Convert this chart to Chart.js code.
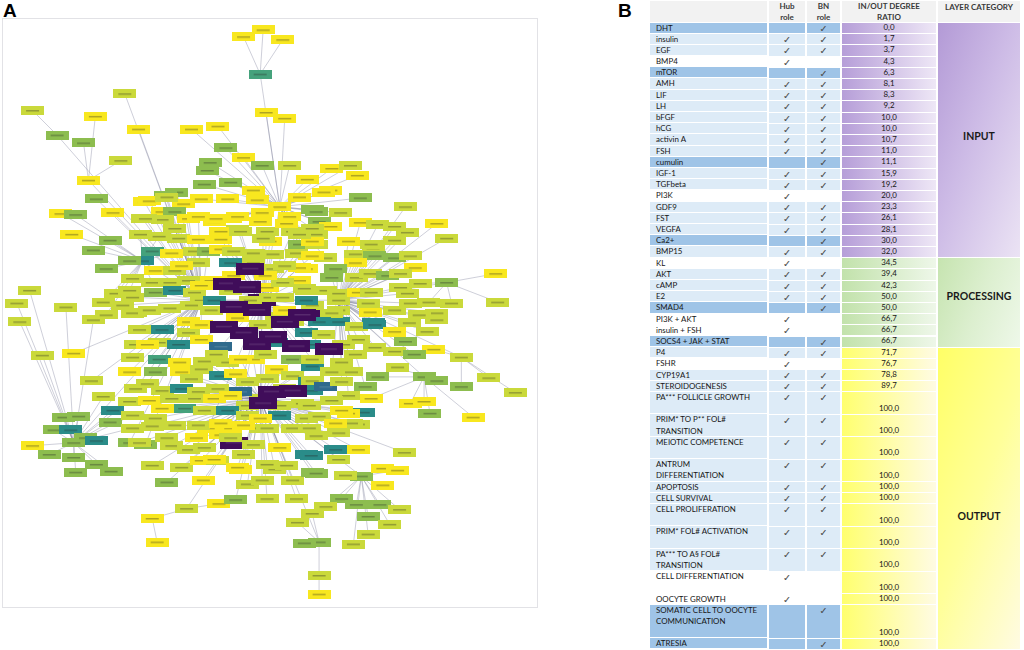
<!DOCTYPE html>
<html>
<head>
<meta charset="utf-8">
<script src="https://cdn.jsdelivr.net/npm/chart.js@4.4.0/dist/chart.umd.min.js"></script>
<style>
  body { margin: 0; width: 1024px; height: 650px; overflow: hidden; background: #fff; position: relative; font-family: Lato, "Open Sans", sans-serif; }
  .plabel { position: absolute; font: bold 19px "Liberation Sans", Arial, sans-serif; color: #000; }
  #netwrap { position: absolute; left: 2px; top: 18px; width: 534px; height: 588px; border: 1px solid #e2e2e6; }
  #net { filter: blur(0.35px); }
  .cell { position: absolute; box-sizing: border-box; font-size: 7.9px; line-height: 11.2px; color: #161616; overflow: hidden; white-space: pre; }
  .hd { background: #f2f2f2; font-weight: bold; font-size: 8px; line-height: 10.5px; color: #3a3a3a; text-align: center; padding-top: 0px; }
  .chk { text-align: center; font-family: "DejaVu Sans", sans-serif; font-size: 9.5px; color: #4a4a4a; }
  .val { text-align: center; display: flex; align-items: flex-end; justify-content: center; }
  .layer { font-weight: bold; font-size: 10.5px; text-align: center; color: #1a1a1a; }
</style>
</head>
<body>
<div class="plabel" style="left:3px;top:0px">A</div>
<div class="plabel" style="left:618px;top:0px">B</div>
<div id="netwrap"><canvas id="net" width="534" height="588"></canvas></div>
<div id="table"></div>
<script>
// ---- panel A : network nodes [x, y, tone, hub]  (layout units) ----
// tone : 0 yellow, 1 lime, 2 light green, 3 green, 4 teal green, 5 teal, 6 blue teal, 7 purple
var hubs = [
  [262,300,7,-1], [260,70,4,13], [53,132,3,10], [85,178,0,10], [450,282,3,11],
  [465,358,1,11], [427,378,3,11], [70,445,3,10], [185,512,1,12], [320,546,3,12],
  [200,300,1,0], [340,300,1,0], [260,400,1,0], [280,205,0,0], [363,479,3,12],
  [140,260,5,10], [320,580,1,9], [150,522,0,8]
];

var topNodes = [[243,32,0,1],[263,25,0,1],[283,35,0,1]];

var leftNodes = [
  [28,107,1,2],[80,140,3,3],[122,90,1,10],[92,113,0,3],[136,126,0,10],[118,158,1,3],
  [93,197,3,10],[57,212,0,15],[72,213,3,15],[68,233,0,15],[107,239,3,15],[90,249,3,15],
  [110,211,0,10],[140,217,1,10],[103,268,3,15],[25,290,1,7],[12,303,1,7],[62,307,1,7],
  [15,322,1,7],[38,356,1,7],[70,354,0,10],[88,382,1,10],[100,398,1,7],[110,412,5,7],
  [107,424,3,7],[60,419,3,7],[75,418,3,7],[50,432,3,7],[67,432,5,7],[82,440,3,7],
  [93,443,5,7],[28,448,0,7],[45,457,3,7],[70,460,3,7],[93,467,3,7],[72,475,3,7],
  [108,474,3,7],[127,445,3,10],[143,447,3,10],[100,302,1,15],[113,293,1,15],[127,290,1,15],
  [120,305,1,10],[90,320,1,7],[103,315,1,15],[133,312,1,10]
];

var lowerNodes = [
  [150,468,1,12],[165,485,3,12],[180,470,1,12],[200,463,0,12],[217,463,1,12],[202,483,0,12],
  [218,507,0,8],[235,503,3,12],[247,487,1,12],[240,472,0,12],[262,483,1,12],[267,502,1,12],
  [297,502,1,12],[275,472,1,12],[293,483,1,12],[313,475,3,12],[307,457,5,12],[298,526,1,9],
  [313,517,1,9],[305,547,3,9],[320,599,0,16],[155,546,0,17],[170,448,1,12],[187,452,1,12],
  [207,430,0,0],[230,430,0,0],[233,445,7,0],[260,430,1,0],[243,457,1,12],
  [343,502,3,14],[358,508,3,14],[382,508,3,14],[402,513,1,14],[327,510,1,14],[370,520,3,14],
  [392,528,1,14],[370,538,1,14],[355,548,1,14],[407,455,1,12],[337,452,5,12],[360,452,0,12],
  [340,462,1,12],[312,458,5,12],[385,471,0,14],[400,473,0,14],[385,488,0,14],[347,478,1,14],
  [317,476,3,12]
];

var rightNodes = [
  [412,323,1,11],[440,320,1,11],[397,333,0,11],[430,332,1,11],[408,342,3,11],[437,350,0,5],
  [377,348,1,11],[397,352,1,11],[417,355,3,11],[400,368,1,6],[380,378,3,6],[440,382,3,6],
  [465,388,3,5],[493,379,1,5],[520,394,1,5],[373,400,0,6],[413,405,0,6],[427,403,0,6],
  [433,415,3,6],[477,419,0,6],[365,414,5,12],[350,415,0,12],[360,426,1,12],[340,435,1,12],
  [333,166,0,13],[352,163,1,13],[359,173,0,13],[332,188,0,13],[362,196,3,13],[313,208,3,13],
  [342,211,1,13],[320,220,3,13],[332,225,0,13],[362,221,0,11],[380,223,1,11],[397,225,1,11],
  [408,205,1,11],[410,231,1,11],[440,222,0,11],[450,237,1,11],[397,239,1,11],[375,247,1,11],
  [397,257,3,11],[413,255,1,11],[418,267,0,11],[500,273,0,4],[333,277,3,11],[358,277,1,11],
  [372,273,1,11],[390,275,3,11],[403,273,1,11],[403,287,1,11],[423,283,1,4],[410,293,1,11],
  [432,302,1,4],[455,303,1,4],[502,302,1,4],[413,303,1,11],[440,313,1,11],[422,315,1,11],
  [372,312,0,11],[375,323,5,11],[340,322,5,11],[307,315,7,0],[300,243,3,13],[317,243,1,13],
  [373,243,1,11],[310,255,0,13],[327,257,1,13],[357,253,1,11],[377,255,3,11],[357,262,0,11],
  [337,268,3,11],[307,268,0,13],[300,280,0,0],[307,290,1,0],[327,290,1,11],[340,293,1,11],
  [360,292,0,11],[373,292,1,11],[340,310,1,11],[313,305,1,0],[370,303,1,11],[333,313,1,11],
  [397,310,1,11],[320,322,5,0],[358,327,1,11],[377,325,5,11],[397,332,0,11],[350,240,0,11],
  [345,345,1,11],[360,340,1,11]
];

var upperNodes = [
  [190,126,0,13],[217,123,0,13],[225,145,3,13],[209,160,3,13],[206,168,3,13],[243,155,0,13],
  [266,109,0,13],[285,115,0,13],[262,163,3,13],[290,163,1,13],[308,177,0,13],[230,180,3,13],
  [203,182,3,13],[175,190,3,10],[163,193,3,10],[142,200,0,10],[182,202,0,10],[200,197,0,13],
  [227,197,0,13],[253,188,0,13],[257,198,0,13],[300,195,0,13],[317,210,3,13],[290,215,0,13],
  [262,211,0,13],[325,190,0,13],[160,210,0,10],[173,210,3,10],[160,218,1,10],[187,217,0,10],
  [230,217,0,13],[213,220,0,13],[237,228,1,0],[267,230,1,0],[293,230,1,0],[317,233,1,0],
  [270,240,0,0],[313,240,0,0],[220,230,0,0],[173,227,1,10],[147,199,0,10],[165,195,1,10]
];

var coreNodes = [
  [143,217,1,10],[197,215,0,10],[215,217,0,13],[237,215,0,13],[260,220,0,13],[287,222,0,13],[313,227,1,13],
  [138,233,1,15],[157,235,1,15],[177,237,1,10],[197,238,0,10],[220,238,0,0],[240,230,1,0],[263,237,1,0],[300,233,1,0],
  [150,250,4,15],[170,252,0,15],[193,250,1,10],[207,250,3,10],[220,248,0,0],[233,250,1,0],[253,252,1,0],[273,253,1,0],[297,252,1,0],[313,255,0,0],
  [127,260,3,15],[153,270,0,15],[173,270,1,10],[197,262,1,10],[230,262,5,0],[253,262,1,0],[273,268,1,0],[300,267,0,0],
  [130,278,1,15],[150,282,1,15],[168,282,1,10],[187,280,1,10],[210,280,0,0],[233,275,0,0],[267,287,0,0],[283,282,1,0],[305,288,1,0],
  [130,297,1,10],[153,292,3,10],[173,290,5,10],[193,292,1,10],[213,300,5,0],[270,297,1,0],[283,297,1,0],[307,300,5,0],
  [130,313,1,10],[147,310,1,10],[168,308,1,10],[187,322,0,10],[210,310,1,0],[237,318,0,0],[277,317,1,0],[293,322,1,0],
  [137,330,1,10],[160,330,5,10],[187,333,1,10],[307,333,5,0],
  [133,345,1,10],[157,343,1,10],[177,345,5,10],[200,340,0,0],[220,347,6,0],[277,343,5,0],[310,345,5,0],
  [130,358,1,10],[157,360,4,10],[178,363,0,10],[203,362,1,12],[227,363,1,12],[253,360,0,12],[277,370,0,12],[293,360,3,12],[313,367,5,12],
  [127,373,0,10],[153,373,3,10],[180,373,0,12],[200,370,1,12],[220,377,5,12],[247,383,1,12],[267,380,1,12],[293,377,1,12],[310,383,5,12],
  [133,390,1,10],[160,392,1,12],[180,390,5,12],[197,393,1,12],[217,390,1,12],[240,393,6,12],[312,392,5,12],
  [127,403,1,7],[147,402,0,12],[170,400,1,12],[193,400,1,12],[213,400,0,12],[230,397,0,12],[247,407,1,12],[280,407,1,12],[303,405,1,12],
  [130,417,1,7],[153,420,1,12],[183,410,4,12],[203,412,1,12],[227,412,5,12],[247,417,1,12],[280,417,5,12],[307,420,1,12],
  [130,430,1,7],[150,428,1,12],[173,427,1,12],[197,427,1,12],[220,425,0,12],[243,427,0,12],[267,430,1,12],[293,430,1,12],[310,430,1,12],
  [137,445,1,12],[203,450,1,12],[220,437,0,12],[253,447,1,12],[280,450,0,12],[213,462,0,12],[237,470,0,12],[267,467,1,12],[287,468,1,12],
  [313,360,1,0],[343,363,1,11],[357,355,1,11],[333,373,1,11],[353,373,1,11],[313,382,1,12],[327,388,6,12],[343,383,1,11],
  [367,388,3,11],[350,397,1,11],[333,402,1,12],[310,407,1,12],[320,418,1,12],[343,412,0,12],[353,425,1,12],[337,425,0,12],[317,438,1,12],
  [190,305,1,10],[250,300,1,0],[200,325,0,10],[260,325,1,0],[285,310,0,0],[215,355,1,12],[240,360,0,12],[265,355,1,12],
  [190,380,1,12],[235,375,0,12],[285,390,1,12],[260,420,0,12],[230,440,1,12],[195,440,0,12],[165,440,1,12],[160,410,0,12],
  [145,385,1,10],[145,345,0,10],[200,285,0,10],[180,265,0,10],[230,290,1,0],[325,335,1,0],[285,265,1,0],[265,275,0,0]
];

// dark purple blocks of the core, drawn last
var purpleNodes = [
  [226,283,7,0],[247,287,7,0],[233,307,7,0],[257,310,7,0],[303,315,7,0],[223,327,7,0],[243,333,7,0],
  [273,337,7,0],[257,345,7,0],[297,347,7,0],[330,350,7,0],[272,393,7,12],[293,392,7,12],[263,405,7,12],
  [250,268,7,0],[285,322,7,0]
];

// ---- panel B : table ----
var rowNames = ['DHT','insulin','EGF','BMP4','mTOR','AMH','LIF','LH','bFGF','hCG','activin A','FSH','cumulin',
  'IGF-1','TGFbeta','PI3K','GDF9','FST','VEGFA','Ca2+','BMP15','KL','AKT','cAMP','E2','SMAD4','PI3K + AKT',
  'insulin + FSH','SOCS4 + JAK + STAT','P4','FSHR','CYP19A1','STEROIDOGENESIS','PA*** FOLLICLE GROWTH',
  'PRIM* TO P** FOL#\nTRANSITION','MEIOTIC COMPETENCE','ANTRUM\nDIFFERENTIATION','APOPTOSIS','CELL SURVIVAL',
  'CELL PROLIFERATION','PRIM* FOL# ACTIVATION','PA*** TO A\u00a7 FOL#\nTRANSITION','CELL DIFFERENTIATION',
  'OOCYTE GROWTH','SOMATIC CELL TO OOCYTE\nCOMMUNICATION','ATRESIA'];
var hubRole = [0,1,1,1,0,1,1,1,1,1,1,1,0,1,1,1,1,1,1,0,1,1,1,1,1,0,1,1,0,1,1,1,1,1,1,1,1,1,1,1,1,1,1,1,0,0];
var bnRole  = [1,1,1,0,1,1,1,1,1,1,1,1,1,1,1,0,1,1,1,1,1,0,1,1,1,1,0,0,1,1,0,1,1,1,1,1,1,1,1,1,1,1,0,0,1,1];
var degreeRatio = [0.0,1.7,3.7,4.3,6.3,8.1,8.3,9.2,10.0,10.0,10.7,11.0,11.1,15.9,19.2,20.0,23.3,26.1,28.1,30.0,32.0,
  34.5,39.4,42.3,50.0,50.0,66.7,66.7,66.7,71.7,76.7,78.8,89.7,
  100.0,100.0,100.0,100.0,100.0,100.0,100.0,100.0,100.0,100.0,100.0,100.0,100.0];
var rowLines = [1,1,1,1,1,1,1,1,1,1,1,1,1,1,1,1,1,1,1,1,1,1,1,1,1,1,1,1,1,1,1,1,1,
  2,2,2,2,1,1,2,2,2,2,1,3,1];
var layerNames = ['INPUT','PROCESSING','OUTPUT'];
var layerRows = [21,8,17];

// ---------------------------------------------------------------
var toneColors = ['#f8e71f','#cad93b','#b0cc45','#8dbd4f','#45a27c','#2a8c89','#2f6a8d','#400d5a'];

function nodeImage(tone) {
  var big = tone === 7;
  var w = big ? 28 : 23, h = big ? 12 : 9;
  var c = document.createElement('canvas');
  c.width = w; c.height = h;
  var g = c.getContext('2d');
  g.fillStyle = toneColors[tone];
  g.fillRect(0, 0, w, h);
  // blurred label text
  g.fillStyle = tone >= 6 ? 'rgba(255,255,255,0.12)' : 'rgba(40,40,40,0.35)';
  g.fillRect(Math.round(w * 0.22), Math.round(h / 2) - 1, Math.round(w * 0.56), 1.5);
  return c;
}
var nodeImages = toneColors.map(function (c, i) { return nodeImage(i); });

var allNodes = hubs.concat(topNodes, leftNodes, lowerNodes, rightNodes, upperNodes, coreNodes, purpleNodes);
var points = allNodes.map(function (n) { return { x: n[0], y: n[1], tone: n[2] }; });

var edgesPlugin = {
  id: 'edges',
  beforeDatasetsDraw: function (chart) {
    var ctx = chart.ctx, x = chart.scales.x, y = chart.scales.y;
    ctx.save();
    ctx.strokeStyle = 'rgba(125,130,155,0.55)';
    ctx.lineWidth = 0.7;
    ctx.beginPath();
    allNodes.forEach(function (n) {
      var h = hubs[n[3]];
      if (!h) return;
      ctx.moveTo(x.getPixelForValue(n[0]), y.getPixelForValue(n[1]));
      ctx.lineTo(x.getPixelForValue(h[0]), y.getPixelForValue(h[1]));
    });
    ctx.stroke();
    ctx.restore();
  }
};

new Chart(document.getElementById('net').getContext('2d'), {
  type: 'scatter',
  data: {
    datasets: [{
      data: points,
      pointStyle: function (c) { return nodeImages[c.raw.tone]; },
      clip: false
    }]
  },
  options: {
    responsive: false,
    animation: false,
    events: [],
    layout: { padding: 0 },
    plugins: { legend: { display: false }, tooltip: { enabled: false } },
    scales: {
      x: { type: 'linear', min: 3, max: 537, display: false },
      y: { type: 'linear', min: 19, max: 607, reverse: true, display: false }
    }
  },
  plugins: [edgesPlugin]
});

// ---- table drawing ----
var table = document.getElementById('table');
var top0 = 23, unitH = (650 - 23) / 56;
var cols = { name: [650, 117], hub: [769, 36], bn: [807, 33], ratio: [842, 94], layer: [938, 82] };
var ratioBg = [
  'linear-gradient(90deg,#b69ed8,#eee7f6)',
  'linear-gradient(90deg,#c2e2ab,#eef7e9)',
  'linear-gradient(90deg,#ffff6e,#fffbe3)'
];
var layerBg = [
  'linear-gradient(110deg,#b39ad6 0%,#cdbbe6 45%,#ebe3f4 100%)',
  'linear-gradient(110deg,#c6e4b0 0%,#dcefcf 50%,#eef8e9 100%)',
  'linear-gradient(110deg,#ffff66 0%,#ffff99 50%,#fffbe2 100%)'
];
var layerTextTop = [0.485, 0.44, 0.56];

function addCell(col, top, height, text, cls, bg, extra) {
  var d = document.createElement('div');
  d.className = 'cell ' + (cls || '');
  d.style.left = cols[col][0] + 'px';
  d.style.width = cols[col][1] + 'px';
  d.style.top = top + 'px';
  d.style.height = height + 'px';
  if (bg) d.style.background = bg;
  if (extra) for (var k in extra) d.style[k] = extra[k];
  d.textContent = text;
  table.appendChild(d);
  return d;
}

// header
addCell('name', 1, 21, '', 'hd');
addCell('hub', 1, 21, 'Hub\nrole', 'hd');
addCell('bn', 1, 21, 'BN\nrole', 'hd');
addCell('ratio', 1, 21, 'IN/OUT DEGREE\nRATIO', 'hd');
addCell('layer', 1, 21, 'LAYER CATEGORY', 'hd', null, { paddingTop: '1px' });

var layerOf = [];
layerRows.forEach(function (n, li) { for (var i = 0; i < n; i++) layerOf.push(li); });

var unit = 0;
var layerStart = [0, 0, 0], layerUnits = [0, 0, 0];
rowNames.forEach(function (name, i) {
  var top = top0 + unit * unitH;
  var h = rowLines[i] * unitH - 1;
  var bg = '#ffffff';
  if (bnRole[i] && hubRole[i]) bg = '#ddebf7';
  else if (bnRole[i] && !hubRole[i]) bg = '#9fc4e7';
  addCell('name', top, h, name, '', bg, { paddingLeft: '6px', marginTop: '-0.5px' });
  addCell('hub', top, h, hubRole[i] ? '\u2713' : '', 'chk', bg);
  addCell('bn', top, h, bnRole[i] ? '\u2713' : '', 'chk', bg);
  var li = layerOf[i];
  var v = addCell('ratio', top, h, '', 'val', ratioBg[li]);
  var s = document.createElement('span');
  s.textContent = degreeRatio[i].toFixed(1).replace('.', ',');
  v.appendChild(s);
  if (layerUnits[li] === 0) layerStart[li] = unit;
  layerUnits[li] += rowLines[i];
  unit += rowLines[i];
});

layerNames.forEach(function (name, li) {
  var top = top0 + layerStart[li] * unitH;
  var h = layerUnits[li] * unitH - 1;
  var d = addCell('layer', top, h, '', 'layer', layerBg[li]);
  var s = document.createElement('div');
  s.style.position = 'absolute';
  s.style.left = '0'; s.style.right = '0';
  s.style.top = Math.round(h * layerTextTop[li] - 6) + 'px';
  s.textContent = name;
  d.appendChild(s);
});
</script>
</body>
</html>
